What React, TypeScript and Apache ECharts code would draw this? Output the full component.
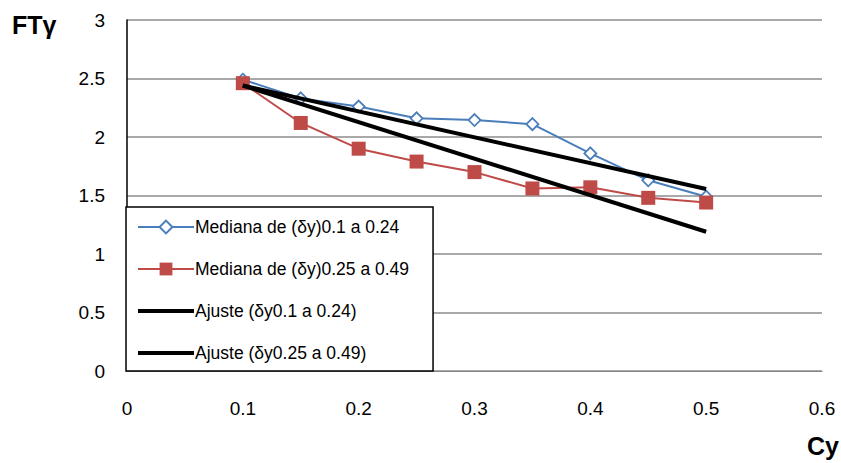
import React, { useEffect, useRef } from "react";
import * as echarts from "echarts";

const xValues = [0.1, 0.15, 0.2, 0.25, 0.3, 0.35, 0.4, 0.45, 0.5];
const medianLow = [2.49, 2.33, 2.26, 2.16, 2.145, 2.11, 1.86, 1.63, 1.49];
const medianHigh = [2.46, 2.12, 1.9, 1.79, 1.7, 1.56, 1.57, 1.48, 1.44];
const fitX = [0.1, 0.5];
const fitLow = [2.44, 1.555];
const fitHigh = [2.44, 1.19];
const seriesNames = [
  "Mediana de (δy)0.1 a 0.24",
  "Mediana de (δy)0.25 a 0.49",
  "Ajuste (δy0.1 a 0.24)",
  "Ajuste (δy0.25 a 0.49)",
];

const pairs = (xs: number[], ys: number[]) => xs.map((x, i) => [x, ys[i]]);

export default function App() {
  const ref = useRef<HTMLDivElement>(null);
  useEffect(() => {
    if (!ref.current) return;
    const chart = echarts.init(ref.current, undefined, { renderer: "svg" });
    const font = "Liberation Sans";
    chart.setOption({
      animation: false,
      backgroundColor: "#ffffff",
      grid: { left: 127, top: 20, right: 19, bottom: 92 },
      xAxis: {
        type: "value",
        min: 0,
        max: 0.6,
        interval: 0.1,
        axisLine: { show: true, onZero: false, lineStyle: { color: "#868686", width: 1 } },
        axisTick: { show: false },
        splitLine: { show: false },
        axisLabel: { color: "#000", fontSize: 19, fontFamily: font, margin: 28 },
      },
      yAxis: {
        type: "value",
        min: 0,
        max: 3,
        interval: 0.5,
        axisLine: { show: true, lineStyle: { color: "#000", width: 1.5 } },
        axisTick: { show: false },
        splitLine: { show: true, lineStyle: { color: "#8c8c8c", width: 1.5 } },
        axisLabel: { color: "#000", fontSize: 19, fontFamily: font, margin: 22 },
      },
      legend: {
        orient: "vertical",
        left: 126,
        top: 207,
        backgroundColor: "#ffffff",
        borderColor: "#000",
        borderWidth: 1.5,
        padding: [11, 24, 9, 10],
        itemGap: 24,
        itemWidth: 56,
        itemHeight: 16,
        textStyle: { fontSize: 17.5, fontFamily: font, color: "#000", padding: [0, 0, 0, -4] },
        data: [
          { name: seriesNames[0] },
          { name: seriesNames[1] },
          { name: seriesNames[2], itemStyle: { opacity: 0 }, lineStyle: { width: 4 } },
          { name: seriesNames[3], itemStyle: { opacity: 0 }, lineStyle: { width: 4 } },
        ],
      },
      series: [
        {
          name: seriesNames[0],
          type: "line",
          data: pairs(xValues, medianLow),
          symbol: "diamond",
          symbolSize: 12,
          lineStyle: { color: "#4A7EBB", width: 2 },
          itemStyle: { color: "#ffffff", borderColor: "#4A7EBB", borderWidth: 1.8 },
          z: 3,
        },
        {
          name: seriesNames[1],
          type: "line",
          data: pairs(xValues, medianHigh),
          symbol: "rect",
          symbolSize: 14,
          lineStyle: { color: "#BE4B48", width: 2 },
          itemStyle: { color: "#BE4B48" },
          z: 3,
        },
        {
          name: seriesNames[2],
          type: "line",
          data: pairs(fitX, fitLow),
          symbol: "none",
          lineStyle: { color: "#000", width: 4 },
          itemStyle: { color: "#000" },
          z: 4,
        },
        {
          name: seriesNames[3],
          type: "line",
          data: pairs(fitX, fitHigh),
          symbol: "none",
          lineStyle: { color: "#000", width: 4 },
          itemStyle: { color: "#000" },
          z: 4,
        },
      ],
      graphic: [
        {
          type: "text",
          left: 12,
          top: 12,
          style: { text: "FTγ", fontSize: 25, fontWeight: "bold", fontFamily: font, fill: "#000" },
        },
        {
          type: "text",
          left: 807,
          top: 433,
          style: { text: "Cy", fontSize: 25, fontWeight: "bold", fontFamily: font, fill: "#000" },
        },
      ],
    });
    return () => chart.dispose();
  }, []);
  return <div ref={ref} style={{ width: 841, height: 463, position: "absolute", left: 0, top: 0 }} />;
}
